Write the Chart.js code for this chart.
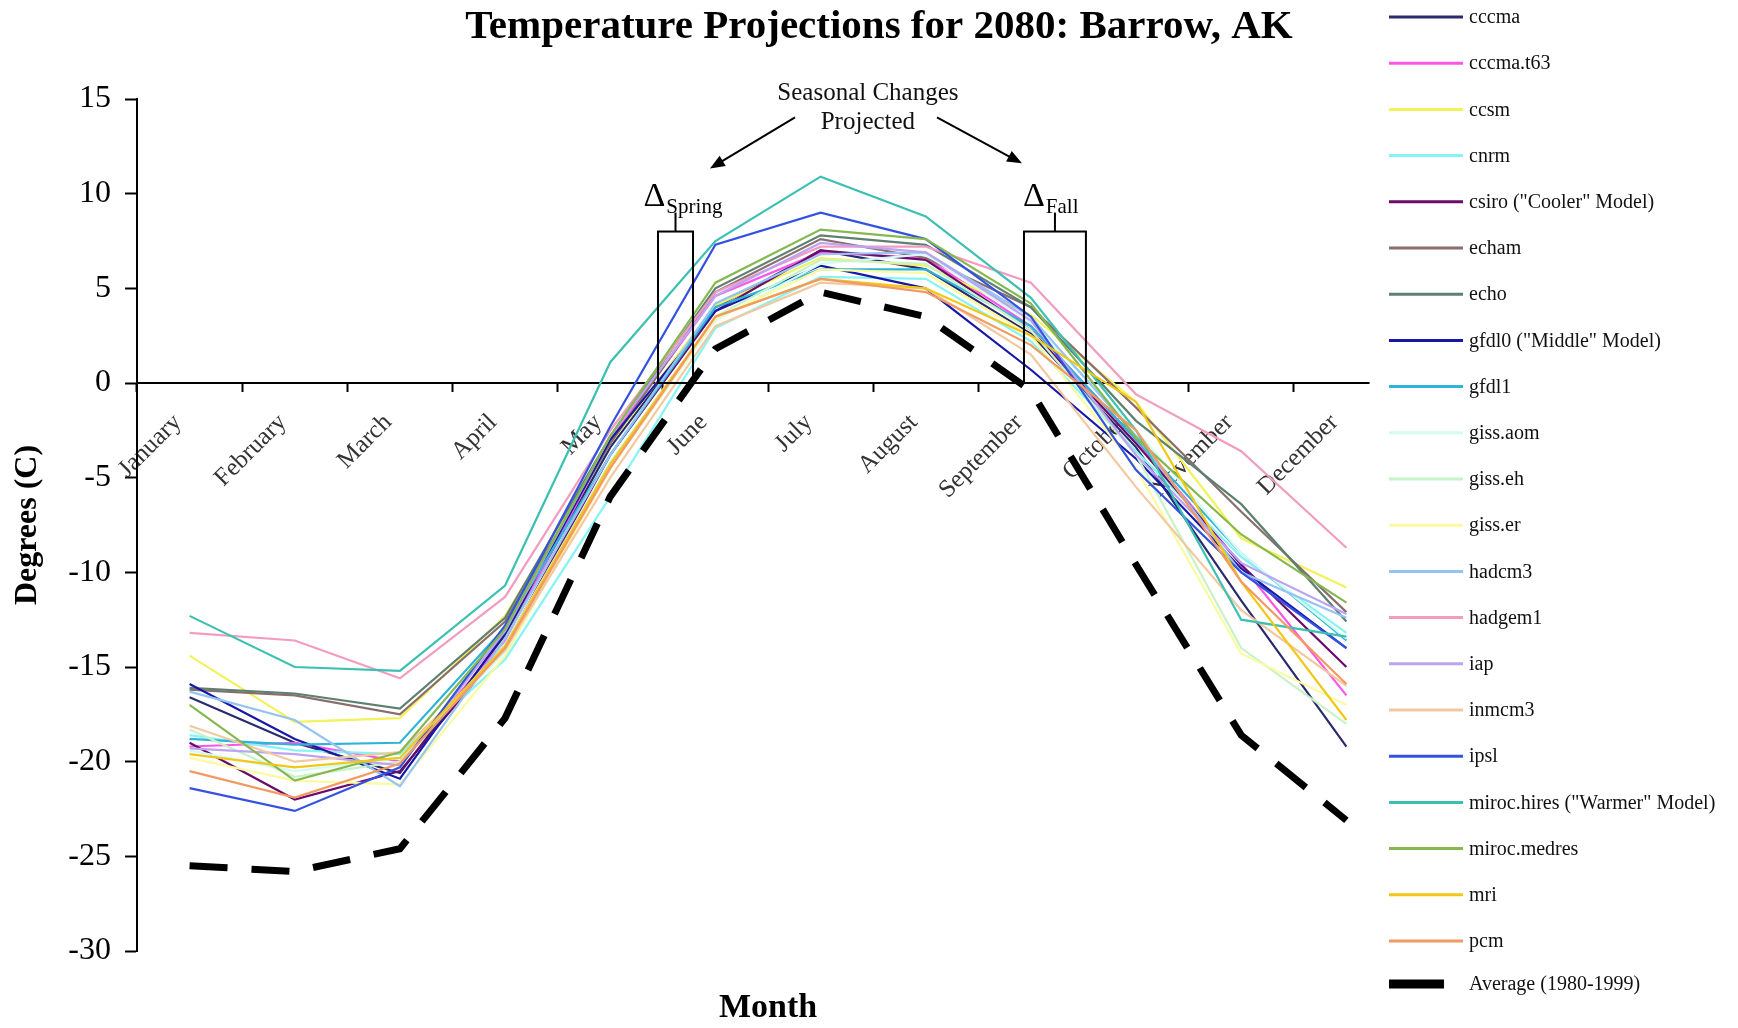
<!DOCTYPE html>
<html lang="en">
<head>
  <meta charset="UTF-8">
  <title>Temperature Projections for 2080: Barrow, AK</title>
  <script src="https://cdn.jsdelivr.net/npm/chart.js"></script>
  <style>
    html, body { margin: 0; padding: 0; background: #fff; }
    #wrap { position: relative; width: 1738px; height: 1028px; }
  </style>
</head>
<body>
<div id="wrap"><canvas id="grafico"></canvas></div>
<script>
// months on the category axis
const months = ['January', 'February', 'March', 'April', 'May', 'June',
  'July', 'August', 'September', 'October', 'November', 'December'];

// y axis range (degrees C)
const yMin = -30;
const yMax = 15;
const yStep = 5;

// monthly temperatures projected for 2080, one array per model
const cccma       = [-16.6, -19.0, -20.6, -13.3, -3.4, 4.0, 7.0, 6.0, 2.6, -3.4, -11.5, -19.2];
const cccmaT63    = [-19.2, -19.0, -20.0, -13.6, -3.0, 4.6, 6.9, 6.6, 3.0, -3.0, -9.6, -16.5];
const ccsm        = [-14.4, -17.9, -17.7, -12.3, -3.2, 4.1, 6.6, 6.2, 3.6, -1.0, -8.2, -10.8];
const cnrm        = [-18.6, -19.4, -19.6, -14.6, -6.0, 2.9, 5.6, 5.5, 2.2, -3.6, -9.2, -13.2];
const csiro       = [-19.0, -22.0, -20.5, -13.9, -3.8, 3.8, 7.0, 6.5, 2.8, -3.2, -9.6, -15.0];
const echam       = [-16.2, -16.5, -17.5, -12.6, -3.2, 4.8, 7.6, 6.6, 4.0, -1.3, -6.8, -12.1];
const echo        = [-16.1, -16.4, -17.2, -12.4, -2.8, 5.0, 7.8, 7.3, 4.0, -2.0, -6.4, -12.6];
const gfdl0       = [-15.9, -18.8, -20.9, -13.2, -3.0, 3.8, 6.2, 5.0, 0.7, -4.0, -9.8, -14.0];
const gfdl1       = [-18.8, -19.1, -19.0, -12.9, -3.8, 4.0, 6.0, 6.0, 3.0, -3.0, -9.0, -13.6];
const gissAom     = [-19.4, -20.5, -19.8, -14.2, -4.5, 3.3, 6.3, 6.8, 3.2, -2.5, -9.0, -13.5];
const gissEh      = [-18.3, -20.8, -20.0, -13.8, -4.2, 3.5, 6.5, 6.3, 2.8, -3.8, -14.0, -18.0];
const gissEr      = [-19.8, -21.0, -21.2, -14.4, -4.5, 3.4, 6.0, 5.8, 2.5, -4.5, -14.3, -17.0];
const hadcm3      = [-16.3, -17.8, -21.3, -13.5, -3.8, 4.2, 6.8, 6.9, 3.5, -2.8, -10.0, -12.4];
const hadgem1     = [-13.2, -13.6, -15.6, -11.3, -2.5, 4.8, 7.2, 7.2, 5.3, -0.6, -3.6, -8.7];
const iap         = [-19.3, -19.6, -20.2, -13.1, -2.8, 4.6, 7.4, 6.9, 3.3, -3.8, -9.5, -12.2];
const inmcm3      = [-18.1, -20.0, -19.5, -14.1, -5.0, 3.0, 5.3, 5.0, 1.5, -5.5, -12.0, -16.0];
const ipsl        = [-21.4, -22.6, -20.3, -12.8, -2.3, 7.3, 9.0, 7.6, 3.5, -4.6, -10.0, -14.0];
const mirocHires  = [-12.3, -15.0, -15.2, -10.7, 1.1, 7.5, 10.9, 8.8, 4.5, -2.5, -12.5, -13.4];
const mirocMedres = [-17.0, -21.0, -19.5, -13.0, -2.8, 5.3, 8.1, 7.6, 4.2, -2.9, -8.0, -11.6];
const mri         = [-19.6, -20.3, -19.8, -13.9, -4.3, 3.5, 5.5, 5.0, 2.5, -1.0, -10.5, -17.8];
const pcm         = [-20.5, -21.9, -20.1, -14.0, -4.5, 3.5, 5.5, 4.8, 2.0, -2.5, -10.5, -15.9];

// observed average 1980-1999
const average = [-25.5, -25.8, -24.6, -17.7, -6.0, 1.8, 4.8, 3.5, -0.4, -9.6, -18.6, -23.1];

const modelNames = ['cccma', 'cccma.t63', 'ccsm', 'cnrm', 'csiro ("Cooler" Model)', 'echam', 'echo',
  'gfdl0 ("Middle" Model)', 'gfdl1', 'giss.aom', 'giss.eh', 'giss.er', 'hadcm3', 'hadgem1', 'iap',
  'inmcm3', 'ipsl', 'miroc.hires ("Warmer" Model)', 'miroc.medres', 'mri', 'pcm'];
const modelSeries = [cccma, cccmaT63, ccsm, cnrm, csiro, echam, echo, gfdl0, gfdl1, gissAom, gissEh,
  gissEr, hadcm3, hadgem1, iap, inmcm3, ipsl, mirocHires, mirocMedres, mri, pcm];
const modelColors = ['#2a2a6e', '#ff55e6', '#f2f25a', '#86f4f4', '#6a0a6a', '#8a6e6e', '#5e8070',
  '#1818a8', '#2eb4d8', '#d2fbf4', '#c8f2c8', '#fafaa0', '#96c4f0', '#f29cc0', '#bca4f2',
  '#f2c8a0', '#3452e0', '#3cc0b2', '#86b850', '#f2c818', '#f29a62'];

const serif = '"Liberation Serif", "Times New Roman", serif';

const datasets = modelSeries.map((dados, i) => ({
  label: modelNames[i],
  data: dados,
  borderColor: modelColors[i],
  backgroundColor: modelColors[i],
  borderWidth: 2.2,
  order: modelSeries.length - i + 1
}));
datasets.push({
  label: 'Average (1980-1999)',
  data: average,
  borderColor: '#000',
  backgroundColor: '#000',
  borderWidth: 7,
  borderDash: [38, 24],
  order: 1
});

// axis line at zero, title, annotations and the legend column
const extras = {
  id: 'extras',
  beforeDatasetsDraw(chart) {
    const {ctx, scales: {x, y}, chartArea} = chart;
    const y0 = y.getPixelForValue(0);
    ctx.save();
    ctx.strokeStyle = '#000';
    ctx.lineWidth = 2;
    ctx.beginPath();
    ctx.moveTo(chartArea.left, y0);
    ctx.lineTo(x.getPixelForValue(11.22), y0);
    ctx.stroke();
    ctx.restore();
  },
  afterDatasetsDraw(chart) {
    const {ctx, scales: {x, y}} = chart;
    const X = v => x.getPixelForValue(v);
    const Y = v => y.getPixelForValue(v);
    ctx.save();
    ctx.strokeStyle = '#000';
    ctx.fillStyle = '#000';
    ctx.lineWidth = 2;

    // delta boxes
    const caixa = (a, b, sub) => {
      ctx.strokeRect(X(a), Y(8), X(b) - X(a), Y(0) - Y(8));
      const cx = (X(a) + X(b)) / 2;
      ctx.beginPath();
      ctx.moveTo(cx, Y(8));
      ctx.lineTo(cx, Y(9.0));
      ctx.stroke();
      ctx.textAlign = 'left';
      ctx.textBaseline = 'alphabetic';
      ctx.font = '34px ' + serif;
      const dx = cx - 32;
      ctx.fillText('\u0394', dx, Y(9.35));
      const w = ctx.measureText('\u0394').width;
      ctx.font = '21px ' + serif;
      ctx.fillText(sub, dx + w + 1, Y(9.0));
    };
    caixa(4.454, 4.787, 'Spring');
    caixa(7.934, 8.523, 'Fall');

    // seasonal changes label with arrows
    ctx.font = '25px ' + serif;
    ctx.textAlign = 'center';
    ctx.textBaseline = 'middle';
    ctx.fillStyle = '#111';
    ctx.fillText('Seasonal Changes', X(6.45), Y(15.3));
    ctx.fillText('Projected', X(6.45), Y(13.77));

    const seta = (x1, y1, x2, y2) => {
      const px1 = X(x1), py1 = Y(y1), px2 = X(x2), py2 = Y(y2);
      const ang = Math.atan2(py2 - py1, px2 - px1);
      const len = 16;
      ctx.beginPath();
      ctx.moveTo(px1, py1);
      ctx.lineTo(px2 - Math.cos(ang) * len * 0.8, py2 - Math.sin(ang) * len * 0.8);
      ctx.stroke();
      ctx.beginPath();
      ctx.moveTo(px2, py2);
      ctx.lineTo(px2 - len * Math.cos(ang - 0.38), py2 - len * Math.sin(ang - 0.38));
      ctx.lineTo(px2 - len * Math.cos(ang + 0.38), py2 - len * Math.sin(ang + 0.38));
      ctx.closePath();
      ctx.fill();
    };
    ctx.fillStyle = '#000';
    seta(5.757, 14.03, 4.948, 11.33);
    seta(7.107, 14.03, 7.915, 11.6);
    ctx.restore();
  },
  afterDraw(chart) {
    const {ctx, chartArea} = chart;
    ctx.save();
    ctx.fillStyle = '#000';
    ctx.textAlign = 'center';
    ctx.textBaseline = 'middle';
    ctx.font = 'bold 41px ' + serif;
    ctx.fillText('Temperature Projections for 2080: Barrow, AK', 879, 27);
    ctx.font = 'bold 34px ' + serif;
    ctx.fillText('Month', (chartArea.left + chartArea.right) / 2, 1008);

    // legend
    ctx.textAlign = 'left';
    ctx.font = '20px ' + serif;
    chart.data.datasets.forEach((ds, i) => {
      const last = i === chart.data.datasets.length - 1;
      const yy = last ? 984 : 17 + i * 46.2;
      if (last) {
        ctx.fillStyle = '#000';
        ctx.fillRect(1389, yy - 4.5, 55, 9);
      } else {
        ctx.strokeStyle = ds.borderColor;
        ctx.lineWidth = 3;
        ctx.beginPath();
        ctx.moveTo(1389, yy);
        ctx.lineTo(1463, yy);
        ctx.stroke();
      }
      ctx.fillStyle = '#111';
      ctx.fillText(ds.label, 1469, yy + 1);
    });
    ctx.restore();
  }
};

new Chart(document.getElementById('grafico'), {
  type: 'line',
  data: { labels: months, datasets: datasets },
  options: {
    responsive: true,
    maintainAspectRatio: false,
    animation: false,
    layout: { padding: { top: 99, right: 339, bottom: 77, left: 0 } },
    plugins: {
      legend: { display: false },
      title: { display: false },
      tooltip: { enabled: false }
    },
    elements: {
      point: { radius: 0 },
      line: { tension: 0, borderCapStyle: 'butt' }
    },
    scales: {
      x: {
        type: 'category',
        offset: true,
        position: { y: 0 },
        border: { display: false },
        grid: {
          offset: true,
          drawOnChartArea: false,
          tickLength: 9,
          tickWidth: 2,
          tickColor: c => c.type === 'tick' ? '#000' : 'rgba(0,0,0,0)'
        },
        ticks: {
          autoSkip: false,
          minRotation: 45,
          maxRotation: 45,
          padding: 16,
          labelOffset: -12,
          color: '#333',
          font: { family: serif, size: 25 }
        }
      },
      y: {
        min: yMin,
        max: yMax,
        afterFit(scale) { scale.width = 137; },
        border: { color: '#000', width: 2 },
        grid: { drawOnChartArea: false, tickLength: 12, tickWidth: 2, tickColor: '#000' },
        ticks: { stepSize: yStep, padding: 14, color: '#000', font: { family: serif, size: 32 } },
        title: {
          display: true,
          text: 'Degrees (C)',
          color: '#000',
          font: { family: serif, size: 32, weight: 'bold' },
          padding: { top: 9, bottom: 0 }
        }
      }
    }
  },
  plugins: [extras]
});
</script>
</body>
</html>
